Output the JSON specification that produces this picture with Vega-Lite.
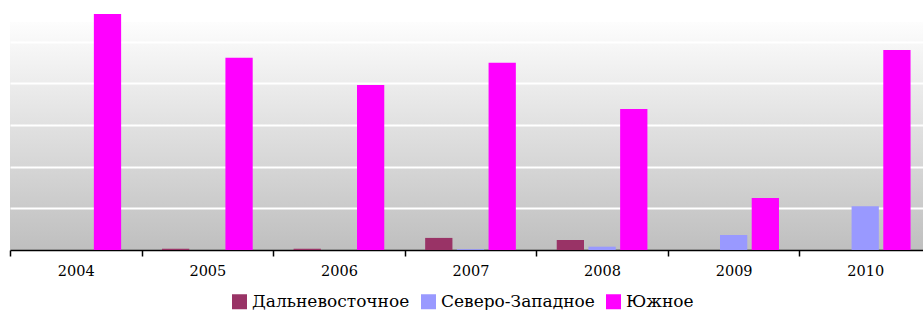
{
  "$schema": "https://vega.github.io/schema/vega-lite/v6.json",
  "width": 921,
  "height": 228,
  "padding": {"left": 9, "top": 14, "right": 0, "bottom": 0},
  "background": "white",
  "config": {
    "view": {
      "stroke": null,
      "fill": {"gradient": "linear", "x1": 0, "y1": 0, "x2": 0, "y2": 1, "stops": [{"offset": 0, "color": "#fdfdfd"}, {"offset": 1, "color": "#bfbfbf"}]}
    },
    "font": "DejaVu Serif"
  },
  "data": {
    "values": [
      {"year": "2004", "region": "Дальневосточное", "value": 0},
      {"year": "2004", "region": "Северо-Западное", "value": 0},
      {"year": "2004", "region": "Южное", "value": 5.66},
      {"year": "2005", "region": "Дальневосточное", "value": 0.03},
      {"year": "2005", "region": "Северо-Западное", "value": 0},
      {"year": "2005", "region": "Южное", "value": 4.61},
      {"year": "2006", "region": "Дальневосточное", "value": 0.03},
      {"year": "2006", "region": "Северо-Западное", "value": 0},
      {"year": "2006", "region": "Южное", "value": 3.96},
      {"year": "2007", "region": "Дальневосточное", "value": 0.29},
      {"year": "2007", "region": "Северо-Западное", "value": 0.02},
      {"year": "2007", "region": "Южное", "value": 4.49},
      {"year": "2008", "region": "Дальневосточное", "value": 0.24},
      {"year": "2008", "region": "Северо-Западное", "value": 0.08},
      {"year": "2008", "region": "Южное", "value": 3.38},
      {"year": "2009", "region": "Дальневосточное", "value": 0},
      {"year": "2009", "region": "Северо-Западное", "value": 0.36},
      {"year": "2009", "region": "Южное", "value": 1.25},
      {"year": "2010", "region": "Дальневосточное", "value": 0},
      {"year": "2010", "region": "Северо-Западное", "value": 1.05},
      {"year": "2010", "region": "Южное", "value": 4.8}
    ]
  },
  "mark": {"type": "bar", "clip": false},
  "encoding": {
    "x": {
      "field": "year",
      "type": "nominal",
      "scale": {"paddingInner": 0, "paddingOuter": 0},
      "axis": {
        "title": null,
        "labelAngle": 0,
        "tickBand": "extent",
        "domainColor": "black",
        "domainWidth": 1.5,
        "tickColor": "black",
        "tickWidth": 1.5,
        "tickSize": 6,
        "labelFont": "DejaVu Serif",
        "labelFontSize": 14.5,
        "labelColor": "black",
        "labelPadding": 8
      }
    },
    "xOffset": {
      "field": "region",
      "type": "nominal",
      "sort": ["Дальневосточное", "Северо-Западное", "Южное"],
      "scale": {"paddingInner": 0.14, "paddingOuter": 0.645}
    },
    "y": {
      "field": "value",
      "type": "quantitative",
      "scale": {"domain": [0, 5.47], "nice": false},
      "axis": {
        "title": null,
        "labels": false,
        "ticks": false,
        "domain": false,
        "values": [1, 2, 3, 4, 5],
        "grid": true,
        "gridColor": "white",
        "gridWidth": 2,
        "gridOpacity": 1
      }
    },
    "color": {
      "field": "region",
      "type": "nominal",
      "sort": ["Дальневосточное", "Северо-Западное", "Южное"],
      "scale": {"domain": ["Дальневосточное", "Северо-Западное", "Южное"], "range": ["#993366", "#9999ff", "#ff00ff"]},
      "legend": {
        "title": null,
        "orient": "none",
        "legendX": 221,
        "legendY": 271,
        "direction": "horizontal",
        "symbolType": "square",
        "symbolSize": 225,
        "symbolStrokeWidth": 0,
        "symbolOpacity": 1,
        "labelFont": "DejaVu Serif",
        "labelFontSize": 17,
        "labelColor": "black",
        "labelOffset": 4,
        "columnPadding": 10,
        "labelLimit": 300
      }
    }
  }
}
